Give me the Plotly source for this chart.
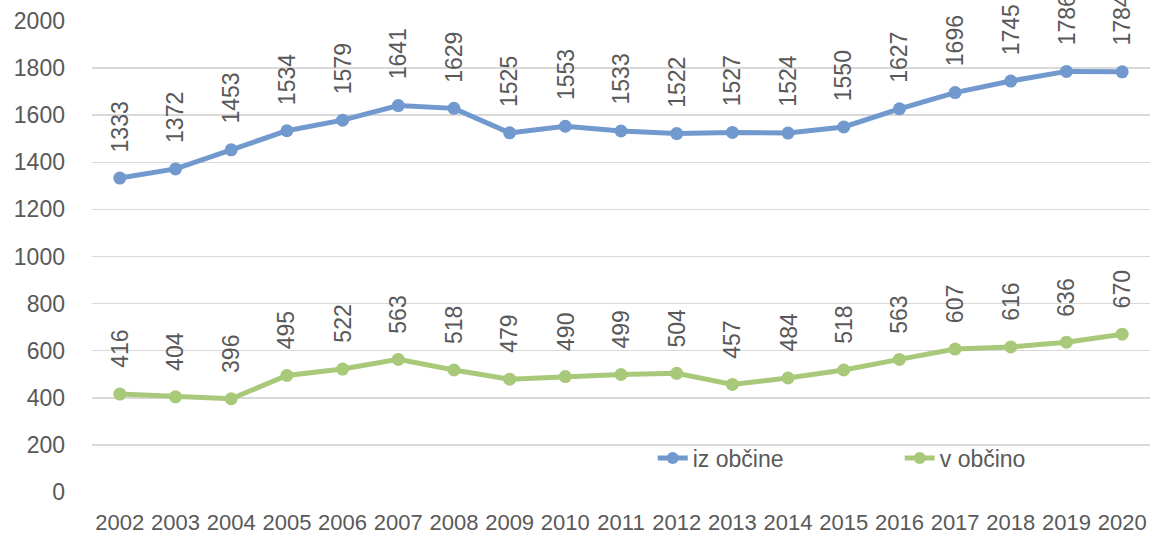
import plotly.graph_objects as go

years = list(range(2002, 2021))
iz_obcine = [1333, 1372, 1453, 1534, 1579, 1641, 1629, 1525, 1553, 1533, 1522, 1527, 1524, 1550, 1627, 1696, 1745, 1786, 1784]
v_obcino = [416, 404, 396, 495, 522, 563, 518, 479, 490, 499, 504, 457, 484, 518, 563, 607, 616, 636, 670]
series_names = ["iz občine", "v občino"]
colors = ["#7199CE", "#A8C87A"]

FONT = "Liberation Sans"
TXT = "#595959"

fig = go.Figure()
for name, vals, col in zip(series_names, [iz_obcine, v_obcino], colors):
    fig.add_trace(go.Scatter(
        x=years, y=vals, name=name, mode="lines+markers",
        line=dict(color=col, width=5),
        marker=dict(color=col, size=13),
        cliponaxis=False,
    ))
    for x, v in zip(years, vals):
        fig.add_annotation(
            x=x, y=v, text=str(v), showarrow=False, textangle=-90,
            yanchor="bottom", xanchor="center", yshift=24,
            font=dict(family=FONT, size=23, color=TXT),
        )

fig.update_layout(
    width=1151, height=536,
    margin=dict(l=92, r=1, t=21, b=44, autoexpand=False),
    paper_bgcolor="white", plot_bgcolor="white",
    font=dict(family=FONT, size=22, color=TXT),
    showlegend=True,
    legend=dict(
        orientation="h", x=0.53, y=0.072, xanchor="left", yanchor="middle",
        font=dict(family=FONT, size=23, color=TXT),
        entrywidth=202, entrywidthmode="pixels",
        bgcolor="rgba(0,0,0,0)", itemsizing="constant",
    ),
    xaxis=dict(
        type="linear", range=[2001.5, 2020.5], dtick=1, tick0=2002,
        showgrid=False, showline=False, zeroline=False, automargin=False,
        ticks="", tickfont=dict(family=FONT, size=22, color=TXT),
        ticklabelstandoff=15,
    ),
    yaxis=dict(
        range=[0, 2000], dtick=200, showgrid=True, gridcolor="#D9D9D9", gridwidth=1.5,
        zeroline=False, showline=False, ticks="", automargin=False,
        tickfont=dict(family=FONT, size=23, color=TXT),
        ticklabelstandoff=26,
    ),
)

fig.write_html(
    "out.html",
    config={"displayModeBar": False, "staticPlot": True},
    post_script="document.body.style.margin='0';document.body.style.overflow='hidden';",
)
